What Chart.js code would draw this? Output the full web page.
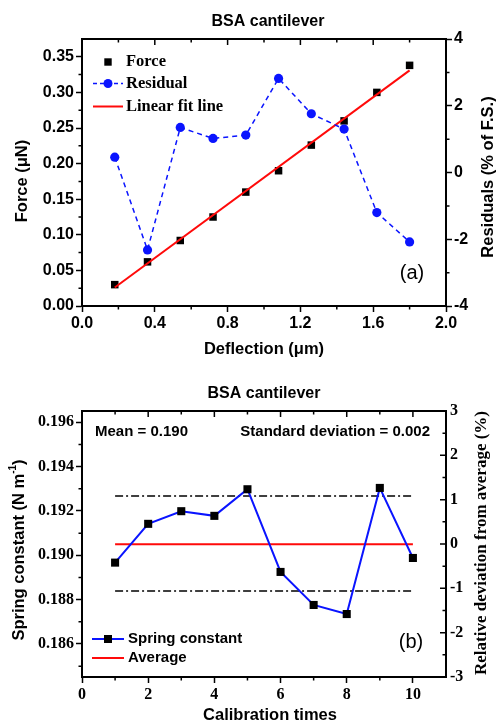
<!DOCTYPE html>
<html>
<head>
<meta charset="utf-8">
<script src="https://cdn.jsdelivr.net/npm/chart.js@4.4.0/dist/chart.umd.min.js"></script>
<style>
  html, body { margin: 0; padding: 0; background: #fff; }
  .box { position: absolute; left: 0; width: 496px; }
  #topBox { top: 0; height: 360px; }
  #botBox { top: 360px; height: 363px; }
</style>
</head>
<body>
<div class="box" id="topBox"><canvas id="forceChart" width="496" height="360"></canvas></div>
<div class="box" id="botBox"><canvas id="springChart" width="496" height="363"></canvas></div>
<script>
// (a) force vs deflection
const deflection = [0.18, 0.36, 0.54, 0.72, 0.90, 1.08, 1.26, 1.44, 1.62, 1.80];
const force = [0.030, 0.062, 0.092, 0.125, 0.160, 0.190, 0.226, 0.260, 0.300, 0.338];
const residual = [0.46, -2.32, 1.35, 1.02, 1.12, 2.82, 1.76, 1.30, -1.20, -2.08];
const fitX = [0.18, 1.80];
const fitY = [0.026, 0.331];
const deflectionTicks = [0, 0.4, 0.8, 1.2, 1.6, 2.0];
const forceTicks = [0, 0.05, 0.10, 0.15, 0.20, 0.25, 0.30, 0.35];
const residualTicks = [-4, -2, 0, 2, 4];

// (b) spring constant per calibration
const calibration = [1, 2, 3, 4, 5, 6, 7, 8, 9, 10];
const springConstant = [0.18967, 0.19142, 0.19199, 0.19178, 0.19298, 0.18925, 0.18776, 0.18735, 0.19304, 0.18988];
const lineX = [1, 10];
const averageK = [0.1905, 0.1905];
const upperSD = [0.19267, 0.19267];
const lowerSD = [0.18839, 0.18839];
const calibTicks = [0, 2, 4, 6, 8, 10];
const springTicks = [0.186, 0.188, 0.190, 0.192, 0.194, 0.196];
const deviationTicks = [-3, -2, -1, 0, 1, 2, 3];

const SANS = '"Liberation Sans", Arial, sans-serif';
const SERIF = '"Liberation Serif", "Times New Roman", serif';
const BLUE = '#0a14ff';
const RED = '#ff0a0a';

function pts(xs, ys) { return xs.map((x, i) => ({ x: x, y: ys[i] })); }
function setTicks(list) { return s => { s.ticks = list.map(v => ({ value: v })); }; }

function minorValues(list, min, max) {
  const step = list[1] - list[0];
  const out = [];
  for (let v = list[0] - step / 2; v < max - 1e-9; v += step) {
    if (v > min + 1e-9) out.push(v);
  }
  return out;
}

function tickLines(ctx, scale, values, base, len, isX) {
  ctx.beginPath();
  values.forEach(v => {
    const p = scale.getPixelForValue(v);
    if (isX) { ctx.moveTo(p, base); ctx.lineTo(p, base + len); }
    else { ctx.moveTo(base, p); ctx.lineTo(base + len, p); }
  });
  ctx.stroke();
}

function text(ctx, str, x, y, font, rot) {
  ctx.save();
  ctx.font = font;
  ctx.fillStyle = '#000';
  ctx.textAlign = 'center';
  ctx.textBaseline = 'middle';
  ctx.translate(x, y);
  if (rot) ctx.rotate(rot);
  ctx.fillText(str, 0, 0);
  ctx.restore();
}

function leftText(ctx, str, x, y, font) {
  ctx.save();
  ctx.font = font;
  ctx.fillStyle = '#000';
  ctx.textAlign = 'left';
  ctx.textBaseline = 'middle';
  ctx.fillText(str, x, y);
  ctx.restore();
}

function axisOpts(list, fmt, font, extra) {
  return Object.assign({
    type: 'linear',
    afterBuildTicks: setTicks(list),
    ticks: { callback: fmt, font: font, color: '#000', padding: 2, maxRotation: 0, autoSkip: false },
    grid: { drawOnChartArea: false, tickLength: 6, tickWidth: 1.5, tickColor: '#000' },
    border: { color: '#000', width: 2 }
  }, extra);
}

const tickSans = { family: SANS, size: 16, weight: 'bold' };
const tickSerif = { family: SERIF, size: 16, weight: 'bold' };

// ---------- chart (a) ----------
const forceExtras = {
  id: 'forceExtras',
  afterDraw(chart) {
    const ctx = chart.ctx;
    const a = chart.chartArea;
    const x = chart.scales.x, y = chart.scales.y, y2 = chart.scales.y2;
    ctx.save();
    ctx.strokeStyle = '#000';
    ctx.lineWidth = 2;
    ctx.beginPath(); ctx.moveTo(a.left - 1, a.top); ctx.lineTo(a.right + 1, a.top); ctx.stroke();
    ctx.lineWidth = 1.5;
    const xm = minorValues(deflectionTicks, 0, 2);
    tickLines(ctx, x, xm, a.bottom, 3.5, true);
    tickLines(ctx, x, deflectionTicks.slice(1, -1), a.top, 6, true);
    tickLines(ctx, x, xm, a.top, 3.5, true);
    tickLines(ctx, y, minorValues(forceTicks, 0, 0.375), a.left, -3.5, false);
    tickLines(ctx, y2, minorValues(residualTicks, -4, 4), a.right, 3.5, false);
    ctx.restore();

    text(ctx, 'BSA cantilever', 268, 22, 'bold 16px ' + SANS);
    text(ctx, 'Deflection (\u03bcm)', 264, 349, 'bold 16.5px ' + SANS);
    text(ctx, 'Force (\u03bcN)', 22, 181, 'bold 16.5px ' + SANS, -Math.PI / 2);
    text(ctx, 'Residuals (% of F.S.)', 488, 177, 'bold 16.5px ' + SANS, -Math.PI / 2);
    text(ctx, '(a)', 412, 273, '20px ' + SANS);

    // legend
    const lf = 'bold 16.5px ' + SERIF;
    ctx.save();
    ctx.fillStyle = '#000';
    ctx.fillRect(108 - 3.7, 62 - 3.7, 7.4, 7.4);
    ctx.strokeStyle = BLUE; ctx.lineWidth = 1.5; ctx.setLineDash([4, 3]);
    ctx.beginPath(); ctx.moveTo(93, 83.5); ctx.lineTo(123, 83.5); ctx.stroke();
    ctx.setLineDash([]);
    ctx.fillStyle = BLUE;
    ctx.beginPath(); ctx.arc(108, 83.5, 4.5, 0, Math.PI * 2); ctx.fill();
    ctx.strokeStyle = RED; ctx.lineWidth = 2;
    ctx.beginPath(); ctx.moveTo(93, 106.5); ctx.lineTo(123, 106.5); ctx.stroke();
    ctx.restore();
    leftText(ctx, 'Force', 126, 62, lf);
    leftText(ctx, 'Residual', 126, 83.5, lf);
    leftText(ctx, 'Linear fit line', 126, 106.5, lf);
  }
};

new Chart(document.getElementById('forceChart'), {
  type: 'scatter',
  data: {
    datasets: [
      { label: 'Residual', data: pts(deflection, residual), yAxisID: 'y2', showLine: true,
        borderColor: BLUE, borderWidth: 1.5, borderDash: [5, 4], pointStyle: 'circle',
        pointRadius: 4.6, pointBackgroundColor: BLUE, pointBorderWidth: 0, order: 1 },
      { label: 'Linear fit line', data: pts(fitX, fitY), yAxisID: 'y', showLine: true,
        borderColor: RED, borderWidth: 2, pointRadius: 0, order: 2 },
      { label: 'Force', data: pts(deflection, force), yAxisID: 'y', showLine: false,
        pointStyle: 'rect', pointRadius: 5.3, pointBackgroundColor: '#000', pointBorderWidth: 0, order: 3 }
    ]
  },
  options: {
    responsive: false,
    animation: false,
    layout: { padding: { top: 39, left: 0, right: 0, bottom: 0 } },
    plugins: { legend: { display: false }, tooltip: { enabled: false }, title: { display: false } },
    scales: {
      x: axisOpts(deflectionTicks, v => v.toFixed(1), tickSans,
        { position: 'bottom', min: 0, max: 2, afterFit: s => { s.height = 54; } }),
      y: axisOpts(forceTicks, v => v.toFixed(2), tickSans,
        { position: 'left', min: 0, max: 0.375, afterFit: s => { s.width = 82; } }),
      y2: axisOpts(residualTicks, v => String(v), tickSans,
        { position: 'right', min: -4, max: 4, afterFit: s => { s.width = 50; } })
    }
  },
  plugins: [forceExtras]
});

// ---------- chart (b) ----------
const springExtras = {
  id: 'springExtras',
  afterDraw(chart) {
    const ctx = chart.ctx;
    const a = chart.chartArea;
    const x = chart.scales.x, y = chart.scales.y, y2 = chart.scales.y2;
    ctx.save();
    ctx.strokeStyle = '#000';
    ctx.lineWidth = 2;
    ctx.beginPath(); ctx.moveTo(a.left - 1, a.top); ctx.lineTo(a.right + 1, a.top); ctx.stroke();
    ctx.lineWidth = 1.5;
    const xm = minorValues(calibTicks, 0, 11);
    tickLines(ctx, x, xm, a.bottom, 3.5, true);
    tickLines(ctx, x, calibTicks.slice(1), a.top, 6, true);
    tickLines(ctx, x, xm, a.top, 3.5, true);
    tickLines(ctx, y, minorValues(springTicks, 0.18451, 0.19651), a.left, -3.5, false);
    tickLines(ctx, y2, deviationTicks.slice(1, -1), a.right, -6, false);
    tickLines(ctx, y2, minorValues(deviationTicks, -3, 3), a.right, -3.5, false);
    ctx.restore();

    text(ctx, 'BSA cantilever', 264, 34, 'bold 16px ' + SANS);
    text(ctx, 'Calibration times', 270, 355, 'bold 16.5px ' + SANS);
    text(ctx, 'Relative deviation from average (%)', 482, 183, 'bold 17px ' + SERIF, -Math.PI / 2);
    text(ctx, '(b)', 411, 282, '20px ' + SANS);
    leftText(ctx, 'Mean = 0.190', 95, 72, 'bold 15px ' + SANS);
    ctx.save();
    ctx.font = 'bold 15px ' + SANS; ctx.fillStyle = '#000';
    ctx.textAlign = 'right'; ctx.textBaseline = 'middle';
    ctx.fillText('Standard deviation = 0.002', 430, 72);
    ctx.restore();

    // left axis title with superscript
    ctx.save();
    ctx.translate(19, 190);
    ctx.rotate(-Math.PI / 2);
    ctx.fillStyle = '#000';
    ctx.textBaseline = 'middle';
    ctx.textAlign = 'left';
    const mainF = 'bold 16.5px ' + SANS, supF = 'bold 10px ' + SANS;
    const p1 = 'Spring constant (N m', p2 = '-1', p3 = ')';
    ctx.font = mainF; const w1 = ctx.measureText(p1).width, w3 = ctx.measureText(p3).width;
    ctx.font = supF; const w2 = ctx.measureText(p2).width;
    let sx = -(w1 + w2 + w3) / 2;
    ctx.font = mainF; ctx.fillText(p1, sx, 0); sx += w1;
    ctx.font = supF; ctx.fillText(p2, sx, -6); sx += w2;
    ctx.font = mainF; ctx.fillText(p3, sx, 0);
    ctx.restore();

    // legend
    ctx.save();
    ctx.strokeStyle = BLUE; ctx.lineWidth = 2;
    ctx.beginPath(); ctx.moveTo(92, 279); ctx.lineTo(124, 279); ctx.stroke();
    ctx.fillStyle = '#000';
    ctx.fillRect(108 - 4, 279 - 4, 8, 8);
    ctx.strokeStyle = RED;
    ctx.beginPath(); ctx.moveTo(92, 298); ctx.lineTo(124, 298); ctx.stroke();
    ctx.restore();
    leftText(ctx, 'Spring constant', 128, 279, 'bold 15px ' + SANS);
    leftText(ctx, 'Average', 128, 298, 'bold 15px ' + SANS);
  }
};

new Chart(document.getElementById('springChart'), {
  type: 'scatter',
  data: {
    datasets: [
      { label: 'Spring constant', data: pts(calibration, springConstant), yAxisID: 'y', showLine: true,
        borderColor: BLUE, borderWidth: 2, pointStyle: 'rect', pointRadius: 5.7,
        pointBackgroundColor: '#000', pointBorderWidth: 0, order: 1 },
      { label: 'Average', data: pts(lineX, averageK), yAxisID: 'y', showLine: true,
        borderColor: RED, borderWidth: 2, pointRadius: 0, order: 2 },
      { label: '+SD', data: pts(lineX, upperSD), yAxisID: 'y', showLine: true,
        borderColor: '#000', borderWidth: 1.5, borderDash: [8, 3, 2, 3], pointRadius: 0, order: 3 },
      { label: '-SD', data: pts(lineX, lowerSD), yAxisID: 'y', showLine: true,
        borderColor: '#000', borderWidth: 1.5, borderDash: [8, 3, 2, 3], pointRadius: 0, order: 3 }
    ]
  },
  options: {
    responsive: false,
    animation: false,
    layout: { padding: { top: 51, left: 0, right: 0, bottom: 0 } },
    plugins: { legend: { display: false }, tooltip: { enabled: false }, title: { display: false } },
    scales: {
      x: axisOpts(calibTicks, v => String(v), tickSerif,
        { position: 'bottom', min: 0, max: 11, afterFit: s => { s.height = 46; } }),
      y: axisOpts(springTicks, v => v.toFixed(3), tickSerif,
        { position: 'left', min: 0.18451, max: 0.19651, afterFit: s => { s.width = 82; } }),
      y2: Object.assign(axisOpts(deviationTicks, v => String(v), tickSerif,
        { position: 'right', min: -3, max: 3, afterFit: s => { s.width = 50; } }),
        { grid: { drawOnChartArea: false, drawTicks: false }, ticks: { callback: v => String(v), font: tickSerif, color: '#000', padding: 4, autoSkip: false } })
    }
  },
  plugins: [springExtras]
});
</script>
</body>
</html>
